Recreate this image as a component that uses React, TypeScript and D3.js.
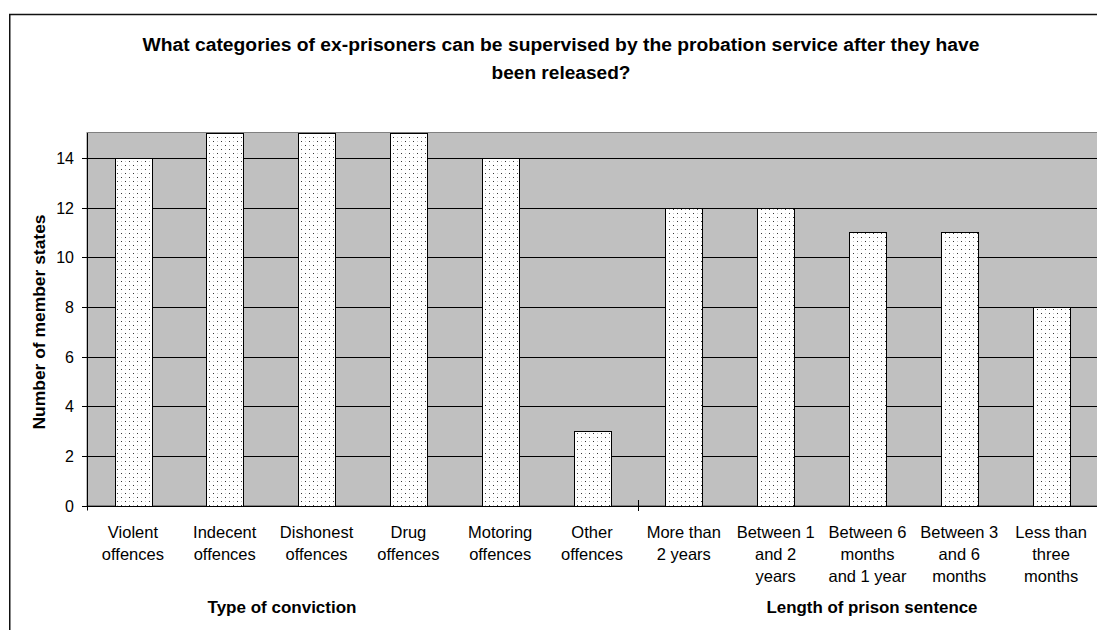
import React from "react";
import * as d3 from "d3";

const titleLines = [
  "What categories of ex-prisoners can be supervised by the probation service after they have",
  "been released?",
];
const categories = [
  "Violent offences",
  "Indecent offences",
  "Dishonest offences",
  "Drug offences",
  "Motoring offences",
  "Other offences",
  "More than 2 years",
  "Between 1 and 2 years",
  "Between 6 months and 1 year",
  "Between 3 and 6 months",
  "Less than three months",
];
const categoryLines = [
  ["Violent", "offences"],
  ["Indecent", "offences"],
  ["Dishonest", "offences"],
  ["Drug", "offences"],
  ["Motoring", "offences"],
  ["Other", "offences"],
  ["More than", "2 years"],
  ["Between 1", "and 2", "years"],
  ["Between 6", "months", "and 1 year"],
  ["Between 3", "and 6", "months"],
  ["Less than", "three", "months"],
];
const values = [14, 15, 15, 15, 14, 3, 12, 12, 11, 11, 8];
const groups = ["Type of conviction", "Length of prison sentence"];
const groupSizes = [6, 5];
const yTicks = [0, 2, 4, 6, 8, 10, 12, 14];
const yTitle = "Number of member states";

const W = 1097;
const H = 630;
const FONT = "Arial, 'Liberation Sans', sans-serif";

export default function App() {
  const left = 87;
  const right = 1097;
  const top = 133;
  const bottom = 505.5;

  const xSlot = d3.scaleBand<string>().domain(categories).range([left, right]).padding(0);
  const step = xSlot.step();
  const barW = step * 0.4;
  const y = d3.scaleLinear().domain([0, 15]).range([bottom, top]);

  const boundary = xSlot(categories[groupSizes[0]]) as number;
  const titleLengths = [837, 139];

  return (
    <svg
      width={W}
      height={H}
      style={{ position: "absolute", left: 0, top: 0, display: "block", overflow: "hidden" }}
      fontFamily={FONT}
    >
      <defs>
        <pattern id="dots" width="8" height="8" patternUnits="userSpaceOnUse">
          <rect width="8" height="8" fill="#ffffff" />
          <rect x="1" y="1" width="1" height="1" fill="#333333" />
          <rect x="5" y="5" width="1" height="1" fill="#333333" />
          <rect x="5" y="1" width="1" height="1" fill="#c8c8c8" />
          <rect x="1" y="5" width="1" height="1" fill="#c8c8c8" />
        </pattern>
      </defs>
      <rect x={0} y={0} width={W} height={H} fill="#ffffff" />
      {/* chart frame */}
      <rect x={9.75} y={14.5} width={W + 20} height={H + 20} fill="none" stroke="#111" strokeWidth={1.5} />

      {/* title */}
      {titleLines.map((t, i) => (
        <text
          key={i}
          x={561}
          y={51 + i * 28}
          textAnchor="middle"
          fontWeight="bold"
          fontSize={18}
          textLength={titleLengths[i]}
          lengthAdjust="spacingAndGlyphs"
          fill="#000"
        >
          {t}
        </text>
      ))}

      {/* plot area */}
      <rect x={left} y={top - 0.5} width={right - left + 10} height={bottom - top + 0.5} fill="#c0c0c0" stroke="#808080" strokeWidth={1} />

      {/* gridlines */}
      {yTicks
        .filter((t) => t > 0)
        .map((t) => (
          <line key={t} x1={left} x2={right} y1={Math.round(y(t)) + 0.5} y2={Math.round(y(t)) + 0.5} stroke="#000" strokeWidth={1} />
        ))}

      {/* bars */}
      {values.map((v, i) => {
        const xs = (xSlot(categories[i]) as number) + (step - barW) / 2;
        return (
          <rect
            key={i}
            x={Math.round(xs) + 0.5}
            y={Math.round(y(v)) + 0.5}
            width={Math.round(barW)}
            height={Math.round(y(0)) - Math.round(y(v))}
            fill="url(#dots)"
            stroke="#000"
            strokeWidth={1}
          />
        );
      })}

      {/* axes */}
      <line x1={left + 0.5} x2={left + 0.5} y1={top} y2={bottom + 5} stroke="#000" strokeWidth={1} />
      <line x1={left} x2={right} y1={Math.round(bottom) + 0.5} y2={Math.round(bottom) + 0.5} stroke="#000" strokeWidth={1} />
      {yTicks.map((t) => (
        <g key={t}>
          <line x1={82} x2={left} y1={Math.round(y(t)) + 0.5} y2={Math.round(y(t)) + 0.5} stroke="#000" strokeWidth={1} />
          <text x={74} y={y(t) + 6} textAnchor="end" fontSize={16} fill="#000">
            {t}
          </text>
        </g>
      ))}
      <line x1={Math.round(boundary) + 0.5} x2={Math.round(boundary) + 0.5} y1={500} y2={511} stroke="#000" strokeWidth={1} />

      {/* category labels */}
      {categoryLines.map((lines, i) => {
        const cx = (xSlot(categories[i]) as number) + step / 2;
        return (
          <text key={i} textAnchor="middle" fontSize={16.5} fill="#000">
            {lines.map((l, j) => (
              <tspan key={j} x={cx} y={538 + j * 22}>
                {l}
              </tspan>
            ))}
          </text>
        );
      })}

      {/* group labels */}
      <text x={282} y={613} textAnchor="middle" fontWeight="bold" fontSize={16} textLength={149} lengthAdjust="spacingAndGlyphs" fill="#000">
        {groups[0]}
      </text>
      <text x={872} y={613} textAnchor="middle" fontWeight="bold" fontSize={16} textLength={211} lengthAdjust="spacingAndGlyphs" fill="#000">
        {groups[1]}
      </text>

      {/* y title */}
      <text
        transform={`translate(45,322) rotate(-90)`}
        textAnchor="middle"
        fontWeight="bold"
        fontSize={16}
        textLength={215}
        lengthAdjust="spacingAndGlyphs"
        fill="#000"
      >
        {yTitle}
      </text>
    </svg>
  );
}
